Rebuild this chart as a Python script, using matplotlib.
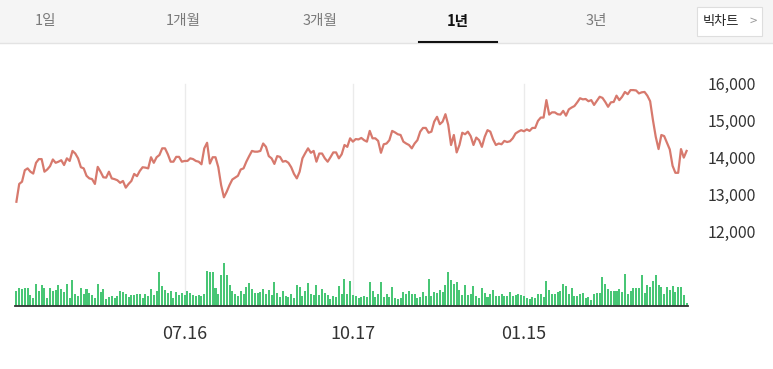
import numpy as np
import matplotlib.pyplot as plt
from matplotlib.patches import Rectangle

plt.rcParams['font.family'] = ['Noto Sans CJK KR', 'DejaVu Sans']

W, H = 773, 369

tabs = ['1일', '1개월', '3개월', '1년', '3년']
active_tab = '1년'
tick_pos = [60, 120, 181]
tick_labels = ['07.16', '10.17', '01.15']
price_ticks = [12000, 13000, 14000, 15000, 16000]

# closing price (원), one per trading day
price = [
    12810, 13290, 13350, 13660, 13710, 13620, 13570, 13860, 13960, 13960,
    13620, 13680, 13770, 13950, 13860, 13890, 13930, 13800, 13980, 13910,
    14180, 14110, 13980, 13740, 13710, 13510, 13440, 13420, 13290, 13750,
    13620, 13470, 13460, 13620, 13440, 13420, 13390, 13320, 13370, 13190,
    13290, 13370, 13560, 13500, 13640, 13740, 13730, 13710, 14010, 13860,
    14010, 14070, 14250, 14250, 14090, 13890, 13890, 14020, 14020, 13890,
    13910, 13910, 13980, 13960, 13910, 13890, 13820, 14250, 14400, 13840,
    14010, 14010, 13740, 13260, 12930, 13080, 13260, 13410, 13460, 13510,
    13680, 13710, 13890, 14040, 14180, 14160, 14160, 14180, 14380, 14290,
    14040, 13980, 13830, 14040, 14020, 13890, 13910, 13860, 13740, 13560,
    13440, 13620, 13980, 14120, 14250, 14130, 14180, 13890, 14110, 14110,
    13980, 13890, 14010, 14140, 14140, 13980, 14090, 14340, 14290, 14520,
    14430,
    14500, 14490, 14530, 14470, 14430, 14720, 14520, 14520, 14450, 14130,
    14360, 14380, 14470, 14720, 14680, 14630, 14610, 14430, 14380, 14340,
    14250, 14380, 14470, 14700, 14800, 14800, 14670, 14700, 14970, 15100,
    14900, 14970, 15170, 14880, 14340, 14610, 14140, 14340, 14670, 14630,
    14700, 14580, 14340, 14540, 14470, 14290, 14560, 14740, 14700, 14490,
    14340, 14380, 14360, 14450, 14420, 14440, 14520, 14650, 14700, 14740,
    14710, 14760, 14720, 14800, 14800, 14990, 15080, 15080, 15550, 15160,
    15220, 15220, 15170, 15160, 15260, 15130, 15300, 15350, 15390, 15490,
    15600, 15570, 15580, 15520, 15550, 15420, 15530, 15640, 15610, 15500,
    15370, 15490, 15500, 15670, 15550, 15640, 15770, 15710, 15820, 15820,
    15810, 15730, 15760, 15770, 15670, 15520, 15010, 14560, 14230, 14610,
    14580, 14400, 14220, 13780, 13590, 13590, 14230, 14000, 14180,
]

# volume (천주)
volume = [
    900, 1060, 1020, 1060, 1060, 660, 460, 1320, 900, 1260,
    1060, 460, 1060, 920, 960, 1260, 1000, 860, 1320, 460,
    1560, 700, 600, 1060, 700, 1000, 800, 660, 460, 1320,
    820, 1000, 400, 560, 600, 460, 600, 900, 820, 700,
    520, 660, 660, 720, 720, 460, 700, 600, 1000, 660,
    900, 2020, 1200, 960, 800, 900, 460, 820, 660, 760,
    660, 900, 800, 660, 600, 660, 600, 700, 2100, 2020,
    2020, 1060, 720, 1860, 2560, 1860, 1260, 900, 720, 600,
    900, 700, 1120, 1360, 1000, 760, 760,
    820, 1000, 720, 960, 660, 1420, 760, 520, 900, 600,
    520, 720, 460, 1260, 1120, 600, 900, 1360, 700, 660,
    1260, 660, 1000, 800, 660, 400, 600, 560, 1200, 720,
    1600, 720, 1500, 660, 600, 460, 520, 600, 560, 1420,
    900, 520, 720, 1420, 560, 720, 520, 1120, 460, 400,
    460, 820, 700, 900, 720, 720, 460, 560, 820, 600,
    1600, 600, 820, 800, 960, 820, 1260, 2020, 1560, 1320,
    1460, 960, 660, 1260, 660, 720, 1200, 600, 460, 1100,
    760, 520, 720, 960, 600, 620, 700, 600, 600,
    820, 600, 660, 720, 660, 600, 460, 400, 520, 460,
    720, 720, 520, 1500, 960, 720, 720, 820, 900, 1320,
    1200, 700, 1060, 600, 600, 720, 760, 460, 520, 360,
    700, 760, 760, 1720, 1300, 1000, 900, 900, 900, 1020,
    820, 1920, 700, 900, 1060, 1060, 1060, 1860, 760, 1260,
    1120, 1500, 1860, 1260, 1120, 700, 1120, 960, 1200, 860,
    1160, 1120, 660, 160,
]

fig = plt.figure(figsize=(W / 100, H / 100), dpi=100, facecolor='white')


def fx(px):
    return px / W


def fy(py):
    return 1 - py / H


# tab bar on top
fig.patches.append(Rectangle((0, fy(42.5)), 1, 1 - fy(42.5), transform=fig.transFigure,
                             facecolor='#f5f5f5', edgecolor='none', zorder=0))
fig.lines.append(plt.Line2D([0, 1], [fy(43), fy(43)], transform=fig.transFigure,
                            color='#e3e3e3', lw=1))
tab_x = [45, 183, 320, 458, 596]
for t, xx in zip(tabs, tab_x):
    if t == active_tab:
        fig.text(fx(xx), fy(21), t, ha='center', va='center', fontsize=10.5,
                 fontweight='bold', color='#111111')
    else:
        fig.text(fx(xx), fy(21), t, ha='center', va='center', fontsize=10.5,
                 color='#7a7a7a')
fig.lines.append(plt.Line2D([fx(419), fx(497)], [fy(42), fy(42)], transform=fig.transFigure,
                            color='#111111', lw=1.5))
fig.patches.append(Rectangle((fx(697), fy(36)), fx(762) - fx(697), fy(7) - fy(36),
                             transform=fig.transFigure, facecolor='white',
                             edgecolor='#dedede', lw=0.8))
fig.text(fx(721), fy(21.5), '빅차트', ha='center', va='center', fontsize=9.5, color='#222222')
fig.text(fx(753), fy(21.5), '>', ha='center', va='center', fontsize=9.5, color='#999999')

rect = [fx(15), fy(306), fx(688) - fx(15), fy(59.3) - fy(306)]
x = np.arange(len(price))

# volume bars (bottom layer)
axv = fig.add_axes(rect)
axv.bar(np.arange(len(volume)), volume, width=0.72, color='#48c675', zorder=2)
for p in tick_pos:
    axv.axvline(p, ymin=0, ymax=0.9, color='#ebebeb', lw=1, zorder=0)
axv.set_xlim(-0.5, len(volume) - 0.5)
axv.set_ylim(0, 14800)
for s in ['top', 'left', 'right']:
    axv.spines[s].set_visible(False)
axv.spines['bottom'].set_color('#333333')
axv.spines['bottom'].set_linewidth(1.3)
axv.set_xticks([])
axv.set_yticks([])
axv.patch.set_alpha(0)

# price line
ax = fig.add_axes(rect)
ax.patch.set_alpha(0)
ax.plot(x, price, color='#d7796d', lw=1.6, solid_joinstyle='round')
ax.set_xlim(-0.5, len(volume) - 0.5)
ax.set_ylim(10000, 16650)
for s in ax.spines.values():
    s.set_visible(False)
ax.yaxis.tick_right()
ax.set_yticks(price_ticks)
ax.set_yticklabels([f'{v:,}' for v in price_ticks])
ax.tick_params(axis='y', length=0, pad=14, labelsize=11.5, labelcolor='#333333')
ax.set_xticks(tick_pos)
ax.set_xticklabels(tick_labels)
ax.tick_params(axis='x', length=0, pad=14, labelsize=13, labelcolor='#333333')

fig.savefig('out.png', dpi=100)
